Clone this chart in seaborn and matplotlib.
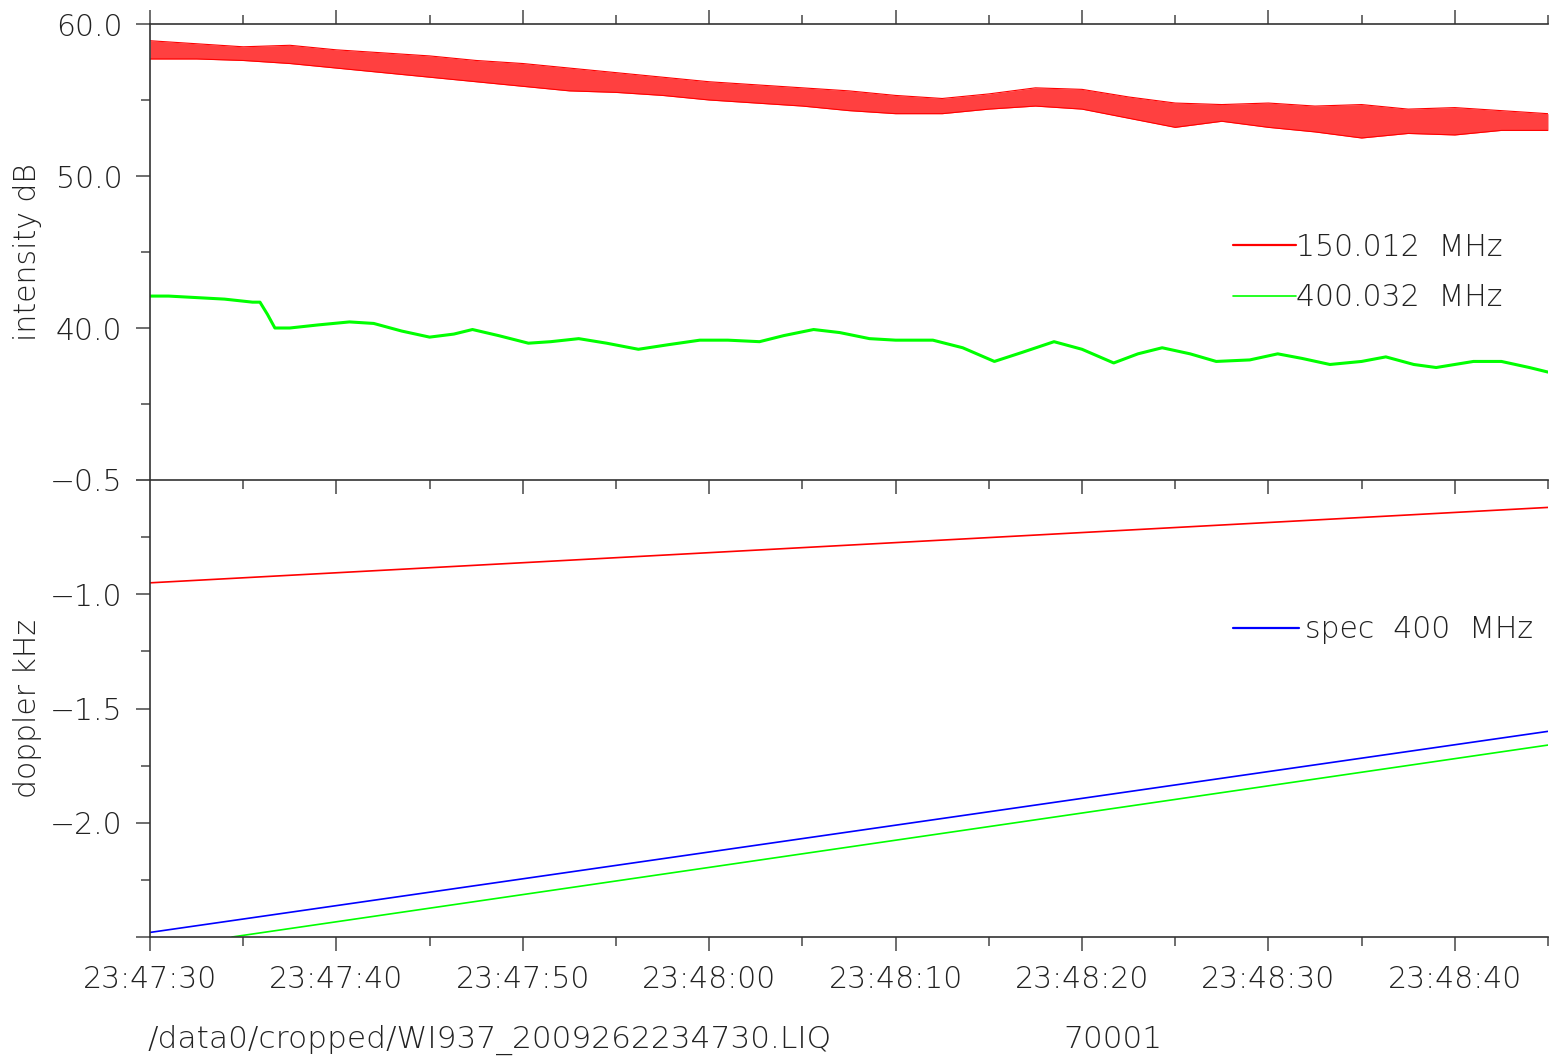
import numpy as np
import pandas as pd
import seaborn as sns
import matplotlib.pyplot as plt
from matplotlib.lines import Line2D
from matplotlib.ticker import MultipleLocator, FixedLocator, FuncFormatter

sns.set_style("ticks")
plt.rcParams['font.family'] = ['DejaVu Sans']
plt.rcParams['font.weight'] = 'light'
plt.rcParams['axes.labelweight'] = 'light'

# ---------------- data (seconds after 23:47:30) ----------------
# 150.012 MHz intensity: dense oscillation, read as upper / lower envelope
t_red = [0, 2.5, 5, 7.5, 10, 12.5, 15, 17.5, 20, 22.5, 25, 27.5, 30, 32.5, 35,
         37.5, 40, 42.5, 45, 47.5, 50, 52.5, 55, 57.5, 60, 62.5, 65, 67.5, 70,
         72.5, 75]
red_hi = [58.9, 58.7, 58.5, 58.6, 58.3, 58.1, 57.9, 57.6, 57.4, 57.1, 56.8,
          56.5, 56.2, 56.0, 55.8, 55.6, 55.3, 55.1, 55.4, 55.8, 55.7, 55.2,
          54.8, 54.7, 54.8, 54.6, 54.7, 54.4, 54.5, 54.3, 54.1]
red_lo = [57.7, 57.7, 57.6, 57.4, 57.1, 56.8, 56.5, 56.2, 55.9, 55.6, 55.5,
          55.3, 55.0, 54.8, 54.6, 54.3, 54.1, 54.1, 54.4, 54.6, 54.4, 53.8,
          53.2, 53.6, 53.2, 52.9, 52.5, 52.8, 52.7, 53.0, 53.0]

# 400.032 MHz intensity
t_green = [0, 1, 2.5, 4, 5.5, 5.9, 6.3, 6.7, 7.5, 9, 10.7, 12, 13.5, 15, 16.3,
           17.3, 18.7, 20.3, 21.5, 23, 24.5, 26.2, 27.8, 29.5, 31, 32.7, 34,
           35.6, 37, 38.6, 40, 42, 43.6, 45.3, 46.8, 48.5, 50, 51.7, 53, 54.3,
           55.8, 57.2, 59, 60.5, 61.8, 63.3, 65, 66.3, 67.8, 69, 71, 72.5, 74,
           75]
green_db = [42.1, 42.1, 42.0, 41.9, 41.7, 41.7, 40.9, 40.0, 40.0, 40.2, 40.4,
            40.3, 39.8, 39.4, 39.6, 39.9, 39.5, 39.0, 39.1, 39.3, 39.0, 38.6,
            38.9, 39.2, 39.2, 39.1, 39.5, 39.9, 39.7, 39.3, 39.2, 39.2, 38.7,
            37.8, 38.4, 39.1, 38.6, 37.7, 38.3, 38.7, 38.3, 37.8, 37.9, 38.3,
            38.0, 37.6, 37.8, 38.1, 37.6, 37.4, 37.8, 37.8, 37.4, 37.1]

# doppler (kHz)
t_dop_red = [0, 75]
dop_red = [-0.95, -0.62]
t_dop_blue = [0, 75]
dop_blue = [-2.48, -1.60]
t_dop_green = [4.4, 75]
dop_green = [-2.50, -1.66]

xtick_secs = [0, 10, 20, 30, 40, 50, 60, 70]
xtick_labels = ["23:47:30", "23:47:40", "23:47:50", "23:48:00",
                "23:48:10", "23:48:20", "23:48:30", "23:48:40"]

RED, GREEN, BLUE = "#ff0000", "#00ff00", "#0000ff"
TXT = "#222222"
FS = 21.5

fig = plt.figure(figsize=(15.49, 10.60), dpi=100)
ax1 = fig.add_axes([150/1549, 1-480/1060, 1398/1549, 456/1060])
ax2 = fig.add_axes([150/1549, 1-937/1060, 1398/1549, 457/1060])
ax1.set_zorder(3)
ax1.patch.set_visible(False)

# ---- top panel ----
ax1.fill_between(t_red, red_lo, red_hi, color=RED, alpha=0.75, lw=0)
sns.lineplot(x=t_red, y=red_hi, ax=ax1, color=RED, lw=0.8)
sns.lineplot(x=t_red, y=red_lo, ax=ax1, color=RED, lw=0.8)
sns.lineplot(x=t_green, y=green_db, ax=ax1, color=GREEN, lw=2.2)
ax1.set_ylim(30, 60)
ax1.yaxis.set_major_locator(FixedLocator([30, 40, 50, 60]))
ax1.yaxis.set_minor_locator(MultipleLocator(5))
ax1.yaxis.set_major_formatter(FuncFormatter(lambda v, p: "" if v < 35 else f"{v:.1f}"))

# ---- bottom panel ----
sns.lineplot(x=t_dop_red, y=dop_red, ax=ax2, color=RED, lw=1.2)
sns.lineplot(x=t_dop_blue, y=dop_blue, ax=ax2, color=BLUE, lw=1.2)
sns.lineplot(x=t_dop_green, y=dop_green, ax=ax2, color=GREEN, lw=1.2)
ax2.set_ylim(-2.5, -0.5)
ax2.yaxis.set_major_locator(FixedLocator([-2.5, -2.0, -1.5, -1.0, -0.5]))
ax2.yaxis.set_minor_locator(MultipleLocator(0.25))
ax2.yaxis.set_major_formatter(FuncFormatter(
    lambda v, p: "" if v < -2.25 else f"{v:.1f}".replace("-", "\u2212")))

for ax in (ax1, ax2):
    ax.set_xlim(0, 75)
    ax.xaxis.set_major_locator(FixedLocator(xtick_secs))
    ax.xaxis.set_minor_locator(MultipleLocator(5))
    ax.spines["right"].set_visible(False)
    for s in ax.spines.values():
        s.set_color("#333333")
        s.set_linewidth(1.2)
    ax.tick_params(which="both", direction="out", colors="#555555",
                   labelcolor=TXT, labelsize=FS, width=1.2)
    ax.tick_params(which="major", length=10)
    ax.tick_params(which="minor", length=6.5)
    ax.tick_params(axis="y", pad=10)

ax1.tick_params(axis="x", which="both", top=True, bottom=True, labelbottom=False)
ax2.spines["top"].set_visible(False)
ax2.tick_params(axis="x", which="both", top=False, bottom=True, pad=10)
ax2.set_xticklabels(xtick_labels)

ax1.set_ylabel("intensity dB", fontsize=FS, color=TXT, fontweight="light")
ax1.yaxis.set_label_coords(-0.077, 0.5)
ax2.set_ylabel("doppler kHz", fontsize=FS, color=TXT, fontweight="light")
ax2.yaxis.set_label_coords(-0.077, 0.5)

h1 = [Line2D([], [], color=RED, lw=1.6), Line2D([], [], color=GREEN, lw=1.2)]
leg1 = ax1.legend(h1, ["150.012  MHz", "400.032  MHz"], loc="upper left",
                  bbox_to_anchor=(0.775, 0.542), frameon=False, fontsize=FS,
                  handlelength=2.1, handletextpad=0.0, borderpad=0,
                  borderaxespad=0, labelspacing=0.72)
for t in leg1.get_texts():
    t.set_color(TXT)

h2 = [Line2D([], [], color=BLUE, lw=1.6)]
leg2 = ax2.legend(h2, ["spec  400  MHz"], loc="center left",
                  bbox_to_anchor=(0.775, 0.672), frameon=False, fontsize=FS,
                  handlelength=2.2, handletextpad=0.2, borderpad=0,
                  borderaxespad=0)
for t in leg2.get_texts():
    t.set_color(TXT)

fig.text(148/1549, 1-1040/1060, "/data0/cropped/WI937_200926223 4730.LIQ".replace(" ", ""),
         fontsize=22.5, color=TXT, va="center", ha="left")
fig.text(1063/1549, 1-1040/1060, "70001", fontsize=22.5, color=TXT,
         va="center", ha="left")

fig.savefig("out.png", dpi=100, facecolor="white")
